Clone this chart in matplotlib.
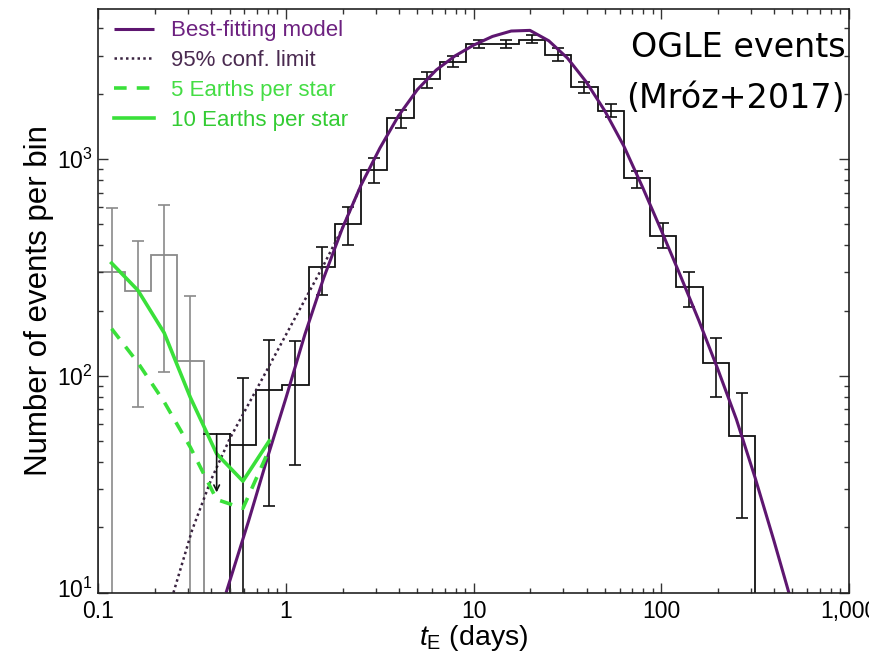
import numpy as np
import matplotlib
matplotlib.use('Agg')
import matplotlib.pyplot as plt
import matplotlib.transforms as mtransforms
from matplotlib.ticker import FixedLocator, FixedFormatter, LogLocator, NullFormatter

plt.rcParams['font.family'] = ['Liberation Sans', 'DejaVu Sans']
plt.rcParams['mathtext.fontset'] = 'custom'
plt.rcParams['mathtext.rm'] = 'Liberation Sans'
plt.rcParams['mathtext.it'] = 'Liberation Sans:italic'

# ---------------- data ----------------
log_edge_start = -1.0
log_bin_width = 0.14
n_bins = 25

counts = [301, 245, 360, 117, 54, 48, 86, 91, 316, 500, 893, 1553, 2344, 2800,
          3406, 3406, 3550, 3006, 2148, 1660, 813, 442, 257, 115, 52.7]
err_hi = [597, 419, 612, 234, 54, 97.5, 146, 144, 393, 598, 1007, 1675, 2518, 2972,
          3540, 3550, 3715, 3236, 2256, 1786, 878, 505, 302, 149, 83]
err_lo = [1, 72, 104, 1, 54, 1, 25, 39, 236, 403, 773, 1389, 2134, 2654,
          3250, 3245, 3410, 2818, 2015, 1563, 733, 388, 207, 80, 22]
gray_bins = [0, 1, 2, 3]
upper_limit_bin = 4
upper_limit_value = 54
upper_limit_tip = 29
black_bins = list(range(5, 25))

model_t = [0.479, 0.631, 0.794, 1.0, 1.259, 1.585, 1.995, 2.512, 3.162, 3.981, 5.012,
           6.310, 7.943, 10.0, 12.59, 15.85, 19.95, 25.12, 31.62, 39.81, 50.12, 63.10,
           79.43, 100, 125.9, 158.5, 199.5, 251.2, 316.2, 398.1, 501.2]
model_n = [10.0, 21.4, 41.7, 79.4, 155, 282, 479, 759, 1122, 1585, 2089,
           2570, 2985, 3350, 3673, 3890, 3917, 3508, 2917, 2265, 1660, 1148,
           741, 468, 292, 180, 108, 63.1, 33.9, 17.4, 8.7]

conf_t = [0.251, 0.316, 0.398, 0.501, 0.631, 0.794, 1.0, 1.259, 1.585, 1.995, 2.512]
conf_n = [10.0, 19.5, 33.1, 51.3, 74.1, 107, 155, 224, 324, 479, 759]

earth_t = [0.1175, 0.1622, 0.2239, 0.309, 0.4266, 0.5888, 0.8128]
earth5_n = [165, 115, 75.9, 46.8, 26.9, 24.5, 45.7]
earth10_n = [331, 248, 158, 79.4, 43.7, 32.7, 50.1]

legend_labels = ['Best-fitting model', '95% conf. limit', '5 Earths per star', '10 Earths per star']
xtick_vals = [0.1, 1, 10, 100, 1000]
xtick_labels = ['0.1', '1', '10', '100', '1,000']
ytick_vals = [10, 100, 1000]
ytick_labels = ['$10^1$', '$10^2$', '$10^3$']

# ---------------- styles ----------------
PURPLE = '#5e1670'
DOT = '#3a2440'
GREEN = '#3ae03a'
GRAY = '#8a8a8a'
BLACK = '#111111'

fig = plt.figure(figsize=(8.69, 6.59), dpi=100)
ax = fig.add_axes([0.1133, 0.1006, 0.8636, 0.8853])
ax.set_xscale('log')
ax.set_yscale('log')

edges = 10 ** (log_edge_start + log_bin_width * np.arange(n_bins + 1))
centers = np.sqrt(edges[:-1] * edges[1:])
counts = np.array(counts, float)
hi = np.array(err_hi, float)
lo = np.array(err_lo, float)

ymin = 10
# gray part
g0, g1 = gray_bins[0], gray_bins[-1] + 1
ax.stairs(counts[g0:g1], edges[g0:g1 + 1], baseline=1, color=GRAY, lw=1.3)
ax.errorbar(centers[g0:g1], counts[g0:g1],
            yerr=[counts[g0:g1] - lo[g0:g1], hi[g0:g1] - counts[g0:g1]],
            fmt='none', ecolor=GRAY, elinewidth=1.2, capsize=4, capthick=1.2)
# black part
b0, b1 = black_bins[0], black_bins[-1] + 1
ax.stairs(counts[b0:b1], edges[b0:b1 + 1], baseline=1, color=BLACK, lw=1.3)
ax.errorbar(centers[b0:b1], counts[b0:b1],
            yerr=[counts[b0:b1] - lo[b0:b1], hi[b0:b1] - counts[b0:b1]],
            fmt='none', ecolor=BLACK, elinewidth=1.2, capsize=4, capthick=1.2)
# upper limit bin
k = upper_limit_bin
ax.plot([edges[k], edges[k + 1]], [upper_limit_value, upper_limit_value], color=BLACK, lw=1.3)
ax.plot([edges[k + 1], edges[k + 1]], [counts[k + 1], upper_limit_value], color=BLACK, lw=1.3)
ax.annotate('', xy=(centers[k], upper_limit_tip), xytext=(centers[k], upper_limit_value),
            arrowprops=dict(arrowstyle='->', color=BLACK, lw=1.2, shrinkA=0, shrinkB=0))

# curves
l_conf, = ax.plot(conf_t, conf_n, color=DOT, lw=1.8, ls=(0, (1, 1.3)))
l_model, = ax.plot(model_t, model_n, color=PURPLE, lw=2.2, solid_capstyle='butt')
l_e5, = ax.plot(earth_t, earth5_n, color=GREEN, lw=2.6, ls=(0, (3.5, 2.8)))
l_e10, = ax.plot(earth_t, earth10_n, color=GREEN, lw=2.6)

ax.set_xlim(0.1, 1000)
ax.set_ylim(ymin, 4900)

ax.xaxis.set_major_locator(FixedLocator(xtick_vals))
ax.xaxis.set_major_formatter(FixedFormatter(xtick_labels))
ax.xaxis.set_minor_locator(LogLocator(base=10, subs=np.arange(2, 10), numticks=20))
ax.xaxis.set_minor_formatter(NullFormatter())
ax.yaxis.set_major_locator(FixedLocator(ytick_vals))
ax.yaxis.set_major_formatter(FixedFormatter(ytick_labels))
ax.yaxis.set_minor_locator(LogLocator(base=10, subs=np.arange(2, 10), numticks=20))
ax.yaxis.set_minor_formatter(NullFormatter())

ax.tick_params(which='both', direction='in', top=True, right=True, width=1.0, color='#333333')
ax.tick_params(which='major', length=7, labelsize=16.5, pad=4)
ax.tick_params(which='minor', length=3.5)
ax.tick_params(axis='x', which='major', pad=5)
for s in ax.spines.values():
    s.set_linewidth(1.2)
    s.set_color('#222222')

fig.canvas.draw()
# lift the lowest y tick label slightly so it clears the "0.1" label
ylabels = ax.yaxis.get_majorticklabels()
ylabels[0].set_transform(ylabels[0].get_transform() +
                         mtransforms.ScaledTranslation(0, 5 / 100, fig.dpi_scale_trans))

ax.set_xlabel(r'$t_{\rm E}$ (days)', fontsize=20.5, labelpad=0)
ax.set_ylabel('Number of events per bin', fontsize=22.5, labelpad=2)

leg = ax.legend([l_model, l_conf, l_e5, l_e10], legend_labels, loc='upper left',
                bbox_to_anchor=(0.021, 0.981), frameon=False, fontsize=16,
                handlelength=1.8, handletextpad=0.75, labelspacing=0.40,
                borderaxespad=0.0, borderpad=0.0,
                labelcolor=['#6d2180', '#4a2a50', '#44dd44', '#33cc33'])

ax.text(0.995, 0.962, 'OGLE events', transform=ax.transAxes, ha='right', va='top',
        fontsize=24, family='DejaVu Sans', color='black')
ax.text(0.995, 0.876, '(Mróz+2017)', transform=ax.transAxes, ha='right', va='top',
        fontsize=24, family='DejaVu Sans', color='black')

fig.savefig('out.png', dpi=100)
